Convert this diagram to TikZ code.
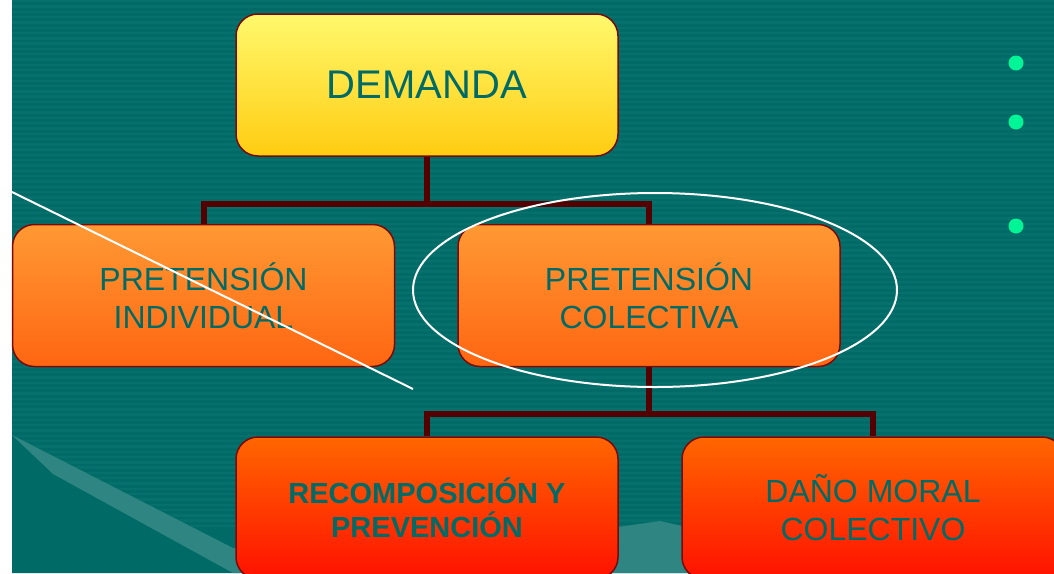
\documentclass[tikz,border=0pt]{standalone}
\usepackage{fontspec}
\setmainfont{Liberation Sans}
\usepackage{xcolor}
\usetikzlibrary{positioning,calc}
\definecolor{slidebg}{HTML}{006B66}
\definecolor{slidestripe}{HTML}{06716C}
\definecolor{slideswoosh}{HTML}{2E8581}
\definecolor{orgtext}{HTML}{006B66}
\definecolor{orgline}{HTML}{550000}
\definecolor{orgedge}{HTML}{7A0A0A}
\definecolor{orgdot}{HTML}{00F596}
\tikzset{
  orgbox/.style={draw=orgedge, line width=1.5pt, rounded corners=22pt,
    minimum width=382pt, minimum height=142pt, align=center,
    text=orgtext, inner sep=2pt},
  orgboxyellow/.style={orgbox, top color=yellow!55!white!95!orange, bottom color={rgb,255:red,255;green,204;blue,17},
    font=\fontsize{40}{48}\selectfont},
  orgboxorange/.style={orgbox, top color={rgb,255:red,255;green,153;blue,51}, bottom color={rgb,255:red,255;green,102;blue,17},
    font=\fontsize{32}{38}\selectfont},
  orgboxred/.style={orgbox, top color={rgb,255:red,255;green,102;blue,0}, bottom color={rgb,255:red,255;green,17;blue,0},
    font=\fontsize{32}{38}\selectfont},
  orgbus/.style={draw=orgline, line width=6pt},
  orgmark/.style={draw=white, line width=2pt},
}

\begin{document}
\begin{tikzpicture}[x=1pt,y=-1pt]
  \useasboundingbox (0,0) rectangle (1054,573);
  % Slide background
  \fill[white] (0,0) rectangle (1054,573);
  \fill[slidebg] (12,0) rectangle (1054,573);
  \foreach \y in {0,5.3,...,525}
    \fill[slidestripe] (12,\y) rectangle (1054,\y+2.4);
  \fill[slidebg] (12,435) -- (233,548) -- (1054,548) -- (1054,573) -- (12,573) -- cycle;
  \fill[slideswoosh] (12,435) -- (233,548) -- (618,527) -- (660,521) -- (700,530)
    -- (700,573) -- (233,573) -- (53,474) -- cycle;

  % Bullets on the right
  \foreach \y in {63,122,226}
    \fill[orgdot] (1016,\y) circle (7.5pt);

  % Boxes
  \node[orgboxyellow] (demanda) at (427,85) {DEMANDA};
  \node[orgboxorange] (individual) at (203.5,295.5) {PRETENSIÓN\\INDIVIDUAL};
  \node[orgboxorange] (colectiva) at (649,295.5) {PRETENSIÓN\\COLECTIVA};
  \node[orgboxred, font=\bfseries\fontsize{29}{34}\selectfont] (recomp) at (427,508)
    {RECOMPOSICIÓN Y\\PREVENCIÓN};
  \node[orgboxred] (dano) at (873,508) {DAÑO MORAL\\COLECTIVO};

  % Tree connectors
  \draw[orgbus] (demanda.south) -- ++(0,47) -| (individual.north);
  \draw[orgbus] (demanda.south) ++(0,47) -| (colectiva.north);
  \draw[orgbus] (colectiva.south) -- ++(0,47) -| (recomp.north);
  \draw[orgbus] (colectiva.south) ++(0,47) -| (dano.north);

  % Strike-through and highlight
  \draw[orgmark] (12,192) -- (413,389);
  \draw[orgmark] (655,290) ellipse [x radius=242, y radius=97];
\end{tikzpicture}
\end{document}
